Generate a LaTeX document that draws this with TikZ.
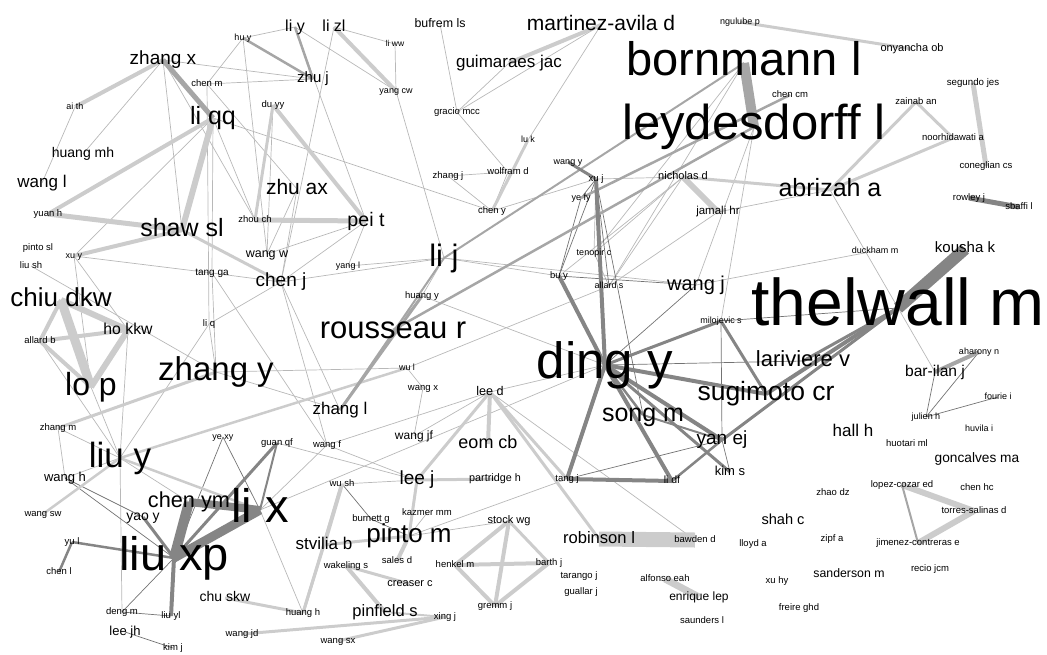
\documentclass[tikz,border=0pt]{standalone}
\usepackage{fontspec}
\setmainfont{Liberation Sans}
\usetikzlibrary{backgrounds}

\tikzset{
  au/.style={inner sep=0pt, text height={0.73*#1pt}, text depth={0.21*#1pt},
    font=\fontsize{#1}{#1}\selectfont},
  au/.default=9.5,
  tl/.style={draw=black!28, line width=0.7pt},
  td/.style={draw=black!55, line width=0.7pt},
  bl/.style={draw=black!20, line width=#1pt},
  bg/.style={draw=black!35, line width=#1pt},
  bd/.style={draw=black!48, line width=#1pt},
}

\begin{document}
\begin{tikzpicture}[x=1pt,y=-1pt]
\useasboundingbox (0,0) rectangle (1047,654);

% authors, top left
\node[au=9] (huy) at (243,38) {hu y};
\node[au=19] (zhangx) at (163,60) {zhang x};
\node[au] (chenm) at (207,84) {chen m};
\node[au=9] (aith) at (75,107) {ai th};
\node[au=25] (liqq) at (213,118) {li qq};
\node[au=14] (huangmh) at (83,154) {huang mh};
\node[au=17] (wangl) at (42,183) {wang l};
\node[au] (yuanh) at (48,214) {yuan h};
\node[au] (duyy) at (273,105) {du yy};
\node[au] (zhouch) at (255,220) {zhou ch};
\node[au=25] (shawsl) at (182,230) {shaw sl};
\node[au=16] (liy) at (295,27) {li y};
\node[au=16] (lizl) at (334,27) {li zl};
\node[au=12.4] (bufremls) at (440,24) {bufrem ls};
\node[au=8.5] (liww) at (395,44) {li ww};
\node[au=15] (zhuj) at (313,79) {zhu j};
\node[au=17] (guimaraesjac) at (509,63) {guimaraes jac};
\node[au=9] (yangcw) at (396,91) {yang cw};
\node[au] (graciomcc) at (457,112) {gracio mcc};
\node[au=9] (luk) at (528,140) {lu k};
\node[au] (zhangj) at (448,176) {zhang j};
\node[au] (wolframd) at (508,172) {wolfram d};
\node[au=21] (zhuax) at (297,189) {zhu ax};
\node[au] (cheny) at (492,211) {chen y};
\node[au=19.6] (peit) at (366,221) {pei t};

% top right
\node[au=21] (martinezavilad) at (601,25) {martinez-avila d};
\node[au=9] (ngulubep) at (740,22) {ngulube p};
\node[au=47] (bornmannl) at (744,63) {bornmann l};
\node[au] (chencm) at (790,95) {chen cm};
\node[au=49] (leydesdorffl) at (754,127) {leydesdorff l};
\node[au=9] (wangy) at (568,162) {wang y};
\node[au] (xuj) at (596,179) {xu j};
\node[au=11] (nicholasd) at (683,177) {nicholas d};
\node[au=9] (yefy) at (581,198) {ye fy};
\node[au=11.5] (jamalihr) at (718,212) {jamali hr};
\node[au=25] (abrizaha) at (830,190) {abrizah a};
\node[au=11] (onyanchaob) at (912,49) {onyancha ob};
\node[au=9.7] (segundojes) at (973,83) {segundo jes};
\node[au] (zainaban) at (916,102) {zainab an};
\node[au] (noorhidawatia) at (953,138) {noorhidawati a};
\node[au] (coneglianes) at (986,166) {coneglian cs};
\node[au] (rowleyj) at (969,198) {rowley j};
\node[au] (sbaffil) at (1019,207) {sbaffi l};

% middle left
\node[au] (pintosl) at (38,248) {pinto sl};
\node[au=9] (xuy) at (74,256) {xu y};
\node[au] (liush) at (31,266) {liu sh};
\node[au=10] (tangga) at (212,273) {tang ga};
\node[au=26] (chiudkw) at (61,300) {chiu dkw};
\node[au=15.8] (hokkw) at (128,330) {ho kkw};
\node[au] (liq) at (209,324) {li q};
\node[au] (allardb) at (40,341) {allard b};
\node[au=33] (zhangy) at (216,372) {zhang y};
\node[au=32] (lop) at (91,387) {lo p};
\node[au] (zhangm) at (58,428) {zhang m};
\node[au=9] (yexy) at (223,437) {ye xy};

% middle
\node[au=12.5] (wangw) at (267,254) {wang w};
\node[au=9] (yangl) at (348,266) {yang l};
\node[au=31] (lij) at (444,258) {li j};
\node[au=19] (chenj) at (281,282) {chen j};
\node[au] (huangy) at (422,296) {huang y};
\node[au=31] (rousseaur) at (393,330) {rousseau r};
\node[au=9] (wul) at (407,368) {wu l};
\node[au] (wangx) at (423,388) {wang x};
\node[au=12.6] (leed) at (490,392) {lee d};
\node[au=17] (zhangl) at (340,410) {zhang l};
\node[au=12] (wangjf) at (414,436) {wang jf};

% ding y and thelwall m
\node[au=9] (tenopirc) at (594,253) {tenopir c};
\node[au] (buy) at (559,276) {bu y};
\node[au=9] (allards) at (609,286) {allard s};
\node[au=20] (wangj) at (696,285) {wang j};
\node[au=9] (milojevics) at (721,321) {milojevic s};
\node[au=51] (dingy) at (605,365) {ding y};
\node[au=22] (larivierev) at (803,361) {lariviere v};
\node[au=26.5] (sugimotocr) at (766,394) {sugimoto cr};
\node[au=25] (songm) at (643,415) {song m};
\node[au=19] (yanej) at (722,440) {yan ej};
\node[au=9] (duckhamm) at (875,251) {duckham m};
\node[au=15] (koushak) at (965,249) {kousha k};
\node[au=66] (thelwallm) at (898,308) {thelwall m};
\node[au=9] (aharonyn) at (979,352) {aharony n};
\node[au=15.6] (barilanj) at (935,372) {bar-ilan j};
\node[au=9] (fouriei) at (998,397) {fourie i};
\node[au=9] (julienh) at (926,417) {julien h};
\node[au=17] (hallh) at (853,432) {hall h};
\node[au=9] (huvilai) at (979,429) {huvila i};

% bottom left
\node[au=35] (liuy) at (120,458) {liu y};
\node[au=13] (wangh) at (65,478) {wang h};
\node[au=21.7] (chenym) at (189,502) {chen ym};
\node[au=47] (lix) at (260,510) {li x};
\node[au] (wangsw) at (43,514) {wang sw};
\node[au=14] (yaoy) at (143,517) {yao y};
\node[au] (yul) at (72,542) {yu l};
\node[au=47] (liuxp) at (174,558) {liu xp};
\node[au] (chenl) at (59,572) {chen l};
\node[au=14] (chuskw) at (225,598) {chu skw};
\node[au] (dengm) at (122,612) {deng m};
\node[au] (liuyl) at (171,616) {liu yl};
\node[au=13] (leejh) at (125,632) {lee jh};
\node[au] (kimj) at (173,648) {kim j};
\node[au] (wangjd) at (242,634) {wang jd};

% bottom middle
\node[au] (guanqf) at (277,443) {guan qf};
\node[au] (wangf) at (327,445) {wang f};
\node[au=18] (eomcb) at (488,444) {eom cb};
\node[au] (wush) at (342,484) {wu sh};
\node[au=19] (leej) at (417,480) {lee j};
\node[au=10.8] (partridgeh) at (495,479) {partridge h};
\node[au] (kazmermm) at (427,513) {kazmer mm};
\node[au=11] (stockwg) at (509,521) {stock wg};
\node[au] (burnettg) at (371,519) {burnett g};
\node[au=26] (pintom) at (409,536) {pinto m};
\node[au=17] (stviliab) at (324,545) {stvilia b};
\node[au] (salesd) at (397,561) {sales d};
\node[au] (wakelings) at (346,566) {wakeling s};
\node[au] (henkelm) at (455,565) {henkel m};
\node[au=11] (creaserc) at (410,584) {creaser c};
\node[au] (gremmj) at (495,606) {gremm j};
\node[au] (huangh) at (303,613) {huang h};
\node[au=16.5] (pinfields) at (385,612) {pinfield s};
\node[au] (xingj) at (445,617) {xing j};
\node[au] (wangsx) at (338,641) {wang sx};

% bottom right
\node[au] (tangj) at (567,479) {tang j};
\node[au=10.5] (lidf) at (672,481) {li df};
\node[au=13] (kims) at (730,472) {kim s};
\node[au=14.6] (shahc) at (783,521) {shah c};
\node[au=16.6] (robinsonl) at (599,539) {robinson l};
\node[au] (bawdend) at (695,540) {bawden d};
\node[au] (lloyda) at (753,544) {lloyd a};
\node[au] (barthj) at (549,563) {barth j};
\node[au] (tarangoj) at (579,576) {tarango j};
\node[au] (alfonsoeah) at (665,579) {alfonso eah};
\node[au] (xuhy) at (777,581) {xu hy};
\node[au] (guallarj) at (581,592) {guallar j};
\node[au=12] (enriquelep) at (699,597) {enrique lep};
\node[au] (freireghd) at (799,608) {freire ghd};
\node[au] (saundersl) at (702,621) {saunders l};
\node[au] (huotariml) at (907,444) {huotari ml};
\node[au=13.7] (goncalvesma) at (977,459) {goncalves ma};
\node[au] (lopezcozared) at (902,485) {lopez-cozar ed};
\node[au] (zhaodz) at (833,493) {zhao dz};
\node[au] (chenhc) at (977,488) {chen hc};
\node[au] (torressalinasd) at (974,511) {torres-salinas d};
\node[au] (zipfa) at (832,539) {zipf a};
\node[au] (jimenezcontrerase) at (918,543) {jimenez-contreras e};
\node[au=12.3] (sandersonm) at (849,574) {sanderson m};
\node[au] (reciojcm) at (930,569) {recio jcm};

\begin{pgfonlayer}{background}
% thin light links
\foreach \a/\b in {zhangx/huangmh, zhangx/zhuj, zhangx/shawsl, zhangx/zhouch,
  aith/wangl, chenm/zhuj, chenm/zhuax, chenm/liq, huy/chenm, huy/liy,
  huy/wangw, liy/peit, liy/yangcw, lizl/liww, lizl/chenj, liww/yangcw,
  yangcw/lij, bufremls/graciomcc, guimaraesjac/graciomcc,
  martinezavilad/graciomcc, martinezavilad/luk, graciomcc/wolframd,
  wolframd/zhangj, zhangj/cheny, wolframd/cheny, cheny/xuj, liqq/cheny,
  liqq/zhouch, liqq/tangga, zhuax/wangw, zhuax/chenj, duyy/wangw,
  peit/chenj, peit/yangl, peit/wangw, xuy/lop, xuy/hokkw, xuy/tangga,
  xuy/liqq, liush/zhangy, tangga/chenj, tangga/zhangy, tangga/wangf,
  liq/chenj, liq/liuy, liq/zhangy, lop/liuy, allardb/liuy, hokkw/liuy,
  zhangm/wangh, zhangy/wul, zhangy/zhangl, chenj/zhangl, chenj/wangf,
  lij/yangl, lij/chenj, lij/wangj, lij/buy, huangy/lij, huangy/rousseaur,
  huangy/dingy, wul/allards, wangx/wangjf, leed/wangjf, leed/bawdend,
  leed/wangf, leed/dingy, xuj/tenopirc, tenopirc/allards,
  tenopirc/nicholasd, allards/nicholasd, allards/jamalihr, buy/nicholasd,
  nicholasd/xuj, abrizaha/barilanj, abrizaha/jamalihr, bornmannl/allards,
  bornmannl/tenopirc, leydesdorffl/milojevics, leydesdorffl/wangj,
  wangj/duckhamm, leej/wush, leej/wangf, leej/guanqf, pintom/kazmermm,
  pintom/stockwg, huangh/lix, lix/wangf, liuy/chenym, dengm/liuy,
  liuy/wangh, zhangm/liuy, tangj/pintom, lix/dingy, wul/wangx}
  \draw[tl] (\a.center) -- (\b.center);
% thin dark links
\foreach \a/\b in {xuj/yefy, xuj/buy, xuj/allards, xuj/songm, buy/yefy,
  buy/wangj, dingy/larivierev, dingy/wangj, milojevics/thelwallm,
  milojevics/yanej, yanej/kims, yanej/tangj, aharonyn/julienh,
  julienh/fouriei, julienh/barilanj, wush/burnettg, yaoy/wangh,
  dengm/liuyl, leejh/kimj, liuxp/dengm, yexy/liuxp, yexy/lix,
  wangh/liuxp, pintom/burnettg}
  \draw[td] (\a.center) -- (\b.center);
% broad light links
\foreach \a/\b/\w in {zhangx/aith/4, shawsl/liqq/6, yuanh/liqq/4,
  yuanh/shawsl/5, shawsl/xuy/4, shawsl/chenj/3, zhouch/peit/5,
  duyy/peit/4, duyy/zhouch/3, chiudkw/lop/9, chiudkw/hokkw/6,
  chiudkw/allardb/4, allardb/lop/4, allardb/hokkw/4, hokkw/lop/6,
  zhangm/zhangy/3, liuy/wul/2.5, liuy/lix/2.5, liuy/wangsw/2.5,
  nicholasd/jamalihr/6, nicholasd/abrizaha/3, abrizaha/zainaban/3,
  abrizaha/noorhidawatia/3, zainaban/noorhidawatia/3,
  segundojes/coneglianes/5, ngulubep/onyanchaob/3,
  martinezavilad/guimaraesjac/4, lizl/yangcw/4, luk/cheny/3, leed/eomcb/4,
  leed/leej/3, leed/tangj/3, leed/robinsonl/3, leej/partridgeh/3,
  wush/stviliab/4, stviliab/pintom/3, pintom/salesd/4, wakelings/pinfields/4,
  wakelings/creaserc/3, pinfields/xingj/2, wangjd/xingj/3, wangsx/xingj/3,
  huangh/stviliab/3, wush/huangh/3, stockwg/henkelm/4, stockwg/gremmj/4,
  henkelm/gremmj/4, barthj/henkelm/4, barthj/gremmj/4, stockwg/barthj/3,
  robinsonl/bawdend/15, alfonsoeah/enriquelep/7,
  lopezcozared/torressalinasd/6, jimenezcontrerase/torressalinasd/6,
  chuskw/huangh/3, pintom/leej/3}
  \draw[bl=\w] (\a.center) -- (\b.center);
% broad grey links
\foreach \a/\b/\w in {zhangx/liqq/5, rousseaur/leydesdorffl/2.5,
  lij/bornmannl/2, huangy/zhangl/3, lij/zhangl/2, chencm/yefy/2.5,
  bornmannl/leydesdorffl/10, barilanj/aharonyn/4,
  lopezcozared/jimenezcontrerase/2, huy/zhuj/2.5, liy/zhuj/2.5}
  \draw[bg=\w] (\a.center) -- (\b.center);
% broad dark links
\foreach \a/\b/\w in {xuj/wangy/3, xuj/dingy/4, buy/dingy/4, dingy/tangj/4,
  dingy/lidf/4, tangj/lidf/4, dingy/songm/2.5, dingy/yanej/4,
  dingy/sugimotocr/4, dingy/milojevics/3, dingy/kims/3,
  sugimotocr/thelwallm/4, larivierev/thelwallm/3, yanej/thelwallm/3,
  milojevics/sugimotocr/3, songm/yanej/2, yanej/lidf/2.5, rowleyj/sbaffil/5,
  chenym/liuxp/10, lix/liuxp/9, chenym/lix/8, liuxp/liuyl/4, liuxp/yaoy/3,
  yul/liuxp/2.5, yul/chenl/2.5, guanqf/liuxp/3, guanqf/lix/2,
  koushak/thelwallm/12}
  \draw[bd=\w] (\a.center) -- (\b.center);
\end{pgfonlayer}
\end{tikzpicture}
\end{document}
